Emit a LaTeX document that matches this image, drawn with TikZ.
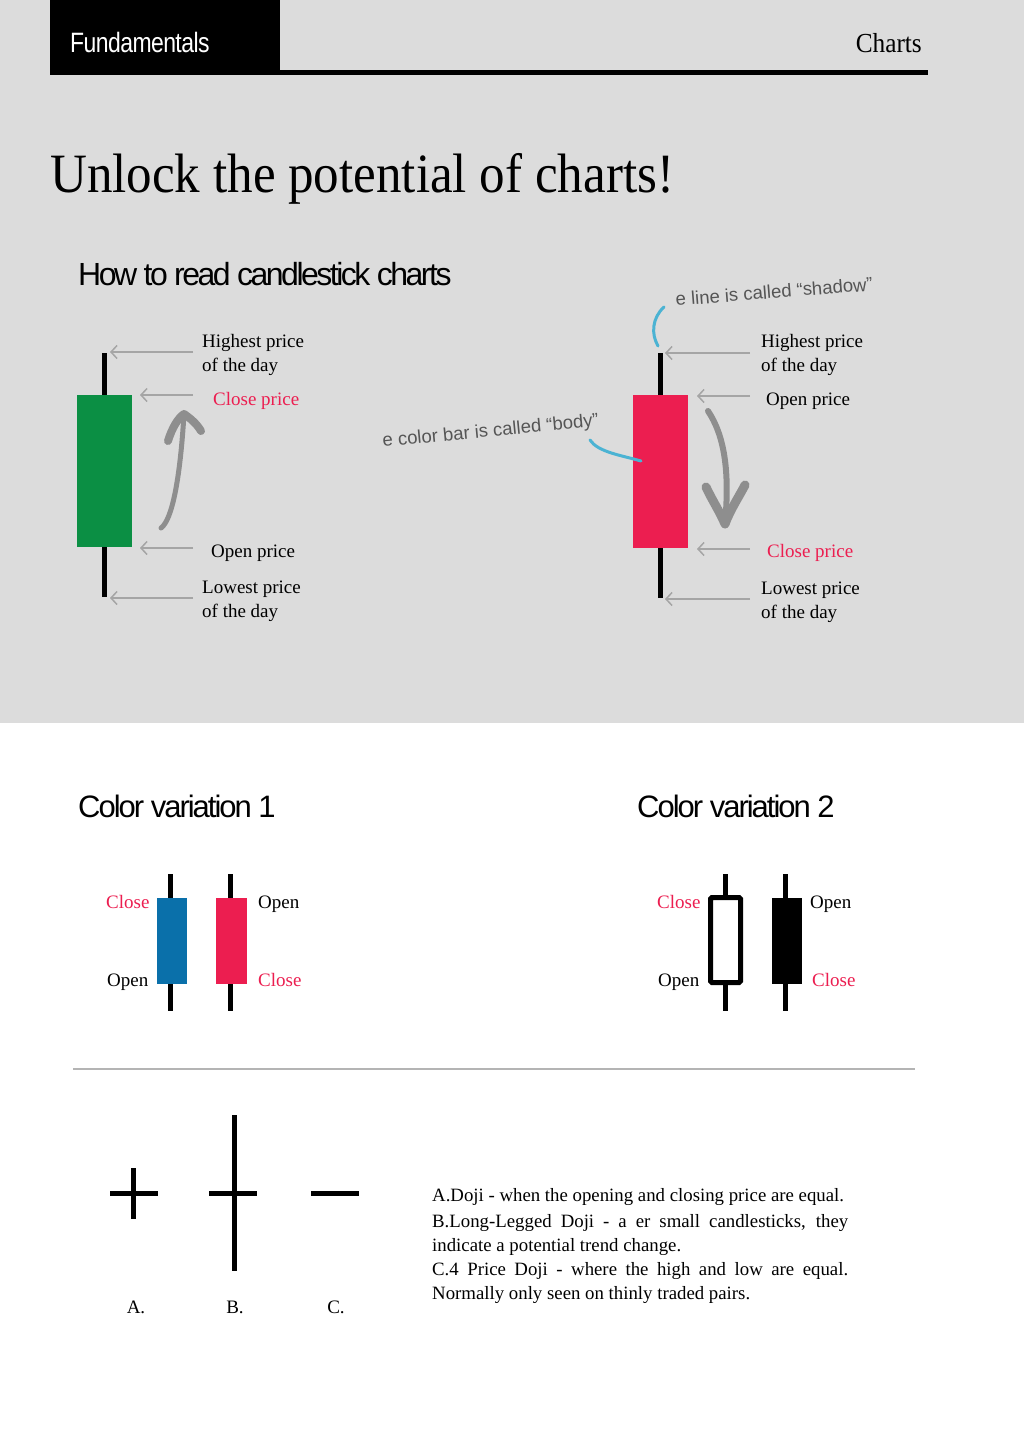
\documentclass[tikz,border=0pt]{standalone}
\usepackage{fontspec}
\setmainfont{Liberation Serif}
\newfontfamily\hsans[LetterSpace=-6.5]{Liberation Sans}
\newfontfamily\hhsans[LetterSpace=-7.8]{Liberation Sans}
\newfontfamily\csans[FakeStretch=0.82,LetterSpace=-2]{Liberation Sans}
\newfontfamily\asans{Liberation Sans}
\newfontfamily\tserif[FakeStretch=0.92]{Liberation Serif}
\usetikzlibrary{arrows.meta}
\definecolor{bggray}{HTML}{DCDCDC}
\definecolor{cgreen}{HTML}{0B8F44}
\definecolor{cred}{HTML}{EC1E50}
\definecolor{cblue}{HTML}{0A70AA}
\definecolor{annblue}{HTML}{4BB3D3}
\definecolor{ptrgray}{HTML}{A5A5A5}
\definecolor{brushgray}{HTML}{8E8E8E}
\definecolor{anntext}{HTML}{555555}
\definecolor{rulegray}{HTML}{B4B4B4}
\tikzset{
  lbl/.style={inner sep=0pt, anchor=base west, font=\fontsize{19}{22}\selectfont},
  redlbl/.style={lbl, text=cred},
  ptr/.style={draw=ptrgray, line width=1.5pt, -{Straight Barb[length=6pt,width=13pt]}},
  wick/.style={line width=5pt},
  candlebody/.style={inner sep=0pt, minimum width=#1, anchor=north west},
  brush/.style={draw=brushgray, line width=5pt, line cap=round, line join=round},
  brushhead/.style={draw=brushgray, line width=8pt, line cap=round, line join=round},
  annline/.style={draw=annblue, line width=3pt, line cap=round},
  anntxt/.style={inner sep=0pt, anchor=base west, text=anntext, font=\asans\fontsize{18.5}{20}\selectfont},
  heading/.style={inner sep=0pt, anchor=base west, font=\hsans\fontsize{31}{34}\selectfont},
  doji/.style={line width=5pt},
  parline/.style={inner sep=0pt, anchor=base west, font=\fontsize{18.8}{22}\selectfont},
}
\begin{document}
\begin{tikzpicture}[x=1pt,y=-1pt]
\useasboundingbox (0,0) rectangle (1024,1447);
\fill[white] (0,0) rectangle (1024,1447);
\fill[bggray] (0,0) rectangle (1024,723);
% header
\fill[black] (50,0) rectangle (280,75.5);
\fill[black] (280,70.5) rectangle (928,75.5);
\node[inner sep=0pt, anchor=base west, text=white, font=\csans\fontsize{28}{30}\selectfont] (hdrL) at (70,53) {Fundamentals};
\node[inner sep=0pt, anchor=base east, font=\tserif\fontsize{27.5}{30}\selectfont] (hdrR) at (922,53) {Charts};
% title
\node[inner sep=0pt, anchor=base west, font=\tserif\fontsize{55.5}{60}\selectfont] (title) at (50,193) {Unlock the potential of charts!};
\node[heading, font=\hhsans\fontsize{32}{34}\selectfont] (howto) at (78,285) {How to read candlestick charts};

% ---- green candle
\draw[wick] (104.5,353) -- (104.5,597);
\node[candlebody=55pt, minimum height=152pt, fill=cgreen] (gbody) at (77,395) {};
\coordinate (g1s) at (193,352); \coordinate (g1e) at (110,352);
\coordinate (g2s) at (193,395); \coordinate (g2e) at (140,395);
\coordinate (g3s) at (193,548); \coordinate (g3e) at (140,548);
\coordinate (g4s) at (193,598); \coordinate (g4e) at (110,598);
\draw[ptr] (g1s) -- (g1e);
\draw[ptr] (g2s) -- (g2e);
\draw[ptr] (g3s) -- (g3e);
\draw[ptr] (g4s) -- (g4e);
\node[lbl] (gl1) at (202,347) {Highest price};
\node[lbl] (gl1b) at (202,371) {of the day};
\node[redlbl] (gl2) at (213,405) {Close price};
\node[lbl] (gl3) at (211,557) {Open price};
\node[lbl] (gl4) at (202,593) {Lowest price};
\node[lbl] (gl4b) at (202,617) {of the day};
% up brush arrow
\coordinate (ua0) at (161,528);
\coordinate (ua1) at (184,414);
\draw[brush] (ua0) .. controls (172,520) and (180,480) .. (ua1);
\draw[brushhead] (168,441) .. controls (172,428) and (178,418) .. (ua1) .. controls (190,418) and (197,424) .. (201,431);

% ---- red candle
\draw[wick] (660.5,353) -- (660.5,598);
\node[candlebody=55pt, minimum height=153pt, fill=cred] (rbody) at (633,395) {};
\coordinate (r1s) at (750,353); \coordinate (r1e) at (665,353);
\coordinate (r2s) at (750,396); \coordinate (r2e) at (697,396);
\coordinate (r3s) at (750,549); \coordinate (r3e) at (697,549);
\coordinate (r4s) at (750,599); \coordinate (r4e) at (665,599);
\draw[ptr] (r1s) -- (r1e);
\draw[ptr] (r2s) -- (r2e);
\draw[ptr] (r3s) -- (r3e);
\draw[ptr] (r4s) -- (r4e);
\node[lbl] (rl1) at (761,347) {Highest price};
\node[lbl] (rl1b) at (761,371) {of the day};
\node[lbl] (rl2) at (766,405) {Open price};
\node[redlbl] (rl3) at (767,557) {Close price};
\node[lbl] (rl4) at (761,594) {Lowest price};
\node[lbl] (rl4b) at (761,618) {of the day};
% down brush arrow
\coordinate (da0) at (708,411);
\coordinate (da1) at (725,524);
\draw[brush, line width=6pt] (da0) .. controls (724,435) and (730,470) .. (da1);
\draw[brushhead, line width=9pt] (706,487) .. controls (712,500) and (720,512) .. (da1) .. controls (730,510) and (740,495) .. (745,485);
% annotations
\node[anntxt, rotate=4.5] (shadowtxt) at (676,306) {e line is called “shadow”};
\node[anntxt, rotate=5.5] (bodytxt) at (383,447) {e color bar is called “body”};
\coordinate (sh0) at (664,307);
\coordinate (sh1) at (658,346);
\draw[annline] (sh0) .. controls (652,318) and (651,334) .. (sh1);
\coordinate (bd0) at (590,440);
\coordinate (bd1) at (641,461);
\draw[annline] (bd0) .. controls (598,452) and (620,455) .. (bd1);

% ---- color variation 1
\node[heading] (cv1) at (78,817) {Color variation 1};
\node[heading] (cv2) at (637,817) {Color variation 2};
\draw[wick] (170.5,874) -- (170.5,1011);
\node[candlebody=30pt, minimum height=86pt, fill=cblue] (bbody) at (157,898) {};
\draw[wick] (230.5,874) -- (230.5,1011);
\node[candlebody=31pt, minimum height=86pt, fill=cred] (r2body) at (216,898) {};
\node[redlbl] (v1c) at (106,908) {Close};
\node[lbl] (v1o) at (107,986) {Open};
\node[lbl] (v1o2) at (258,908) {Open};
\node[redlbl] (v1c2) at (258,986) {Close};

% ---- color variation 2
\draw[wick] (725.5,874) -- (725.5,1011);
\draw[line width=5pt, fill=white, rounded corners=1.5pt] (710.5,897.5) rectangle (740.5,982.5);
\node[inner sep=0pt, minimum width=35pt, minimum height=90pt] (wbody) at (725.5,940) {};
\draw[wick] (785.5,874) -- (785.5,1011);
\node[candlebody=30pt, minimum height=86pt, fill=black] (kbody) at (772,898) {};
\node[redlbl] (v2c) at (657,908) {Close};
\node[lbl] (v2o) at (658,986) {Open};
\node[lbl] (v2o2) at (810,908) {Open};
\node[redlbl] (v2c2) at (812,986) {Close};

% divider
\draw[rulegray, line width=1.5pt] (73,1069) -- (915,1069);

% doji
\draw[doji] (110,1193) -- (158,1193);
\draw[doji] (133,1168) -- (133,1219);
\draw[doji] (234,1115) -- (234,1271);
\draw[doji] (209,1193) -- (257,1193);
\draw[doji] (311,1193) -- (359,1193);
\node[lbl, anchor=base] (la) at (136,1313) {A.};
\node[lbl, anchor=base] (lb) at (235,1313) {B.};
\node[lbl, anchor=base] (lc) at (336,1313) {C.};

% paragraph
\node[parline] (p1) at (432,1201) {A.Doji - when the opening and closing price are equal.};
\node[parline] (p2) at (432,1227) {\makebox[416pt][s]{B.Long-Legged Doji - a er small candlesticks, they}};
\node[parline] (p3) at (432,1251) {indicate a potential trend change.};
\node[parline] (p4) at (432,1275) {\makebox[416pt][s]{C.4 Price Doji - where the high and low are equal.}};
\node[parline] (p5) at (432,1299) {Normally only seen on thinly traded pairs.};
\end{tikzpicture}
\end{document}
